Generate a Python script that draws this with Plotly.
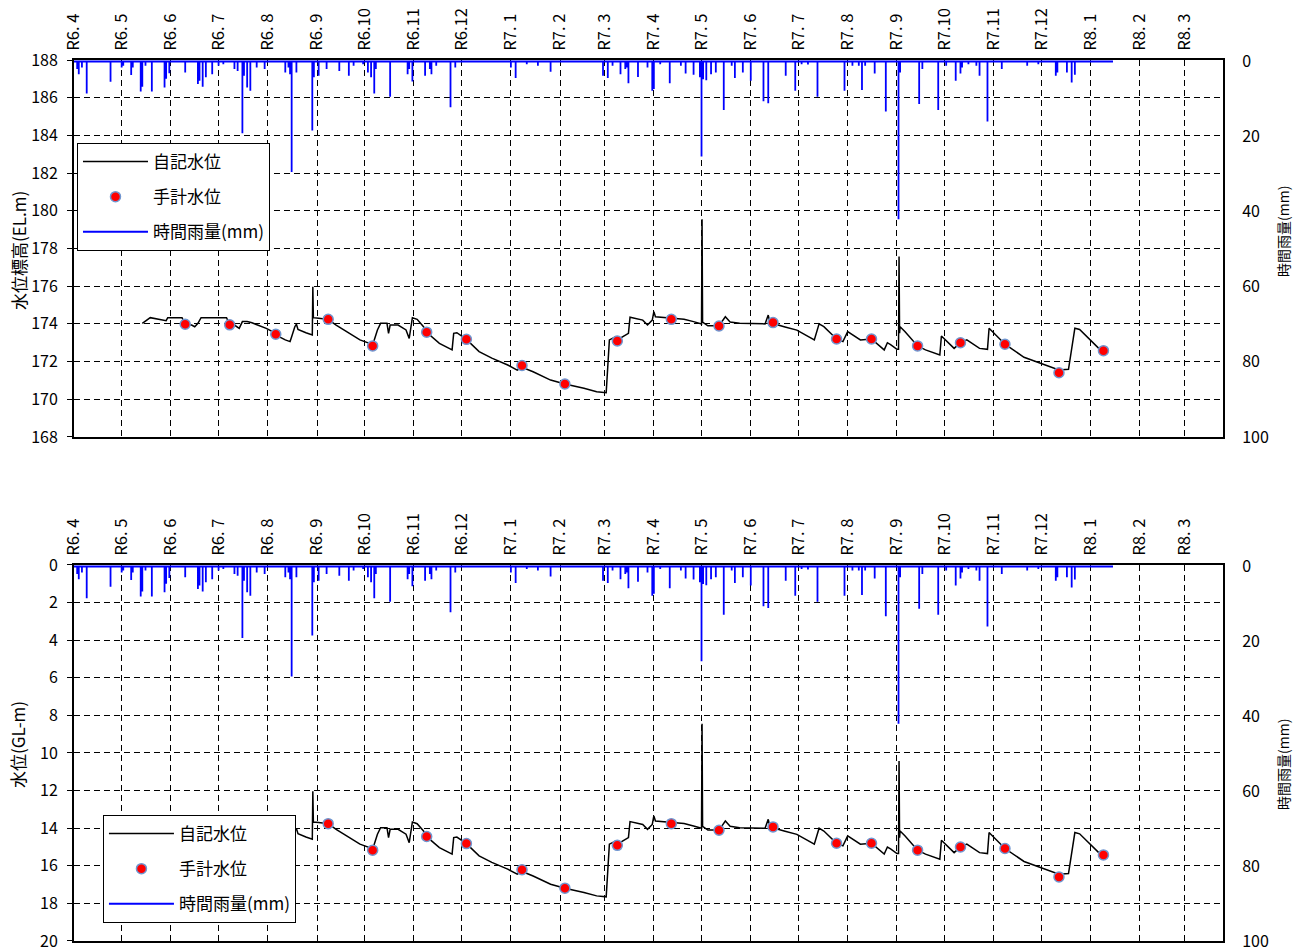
import pandas as pd
import plotly.graph_objects as go

# ---------------- data ----------------
month_ticks = ["2024-04-01", "2024-05-01", "2024-06-01", "2024-07-01", "2024-08-01", "2024-09-01",
               "2024-10-01", "2024-11-01", "2024-12-01", "2025-01-01", "2025-02-01", "2025-03-01",
               "2025-04-01", "2025-05-01", "2025-06-01", "2025-07-01", "2025-08-01", "2025-09-01",
               "2025-10-01", "2025-11-01", "2025-12-01", "2026-01-01", "2026-02-01", "2026-03-01"]
month_labels = ["R6. 4", "R6. 5", "R6. 6", "R6. 7", "R6. 8", "R6. 9", "R6.10", "R6.11", "R6.12",
                "R7. 1", "R7. 2", "R7. 3", "R7. 4", "R7. 5", "R7. 6", "R7. 7", "R7. 8", "R7. 9",
                "R7.10", "R7.11", "R7.12", "R8. 1", "R8. 2", "R8. 3"]

# 自記水位 (EL.m)
level_dates = ["2024-05-14", "2024-05-19", "2024-05-29", "2024-05-30", "2024-06-08", "2024-06-10",
               "2024-06-14", "2024-06-16", "2024-06-18", "2024-06-20", "2024-07-06", "2024-07-08",
               "2024-07-11", "2024-07-14", "2024-07-16", "2024-07-19", "2024-07-22", "2024-07-26",
               "2024-07-31", "2024-08-04", "2024-08-06", "2024-08-08", "2024-08-12", "2024-08-15",
               "2024-08-16", "2024-08-18", "2024-08-19", "2024-08-20", "2024-08-25", "2024-08-28",
               "2024-08-29 00:00", "2024-08-29 08:00", "2024-08-29 16:00", "2024-09-02", "2024-09-08",
               "2024-09-13", "2024-09-28", "2024-10-04", "2024-10-06", "2024-10-07", "2024-10-09",
               "2024-10-11", "2024-10-15", "2024-10-16", "2024-10-17", "2024-10-22", "2024-10-27",
               "2024-10-29", "2024-10-31", "2024-11-03", "2024-11-07", "2024-11-09", "2024-11-17",
               "2024-11-25", "2024-11-26", "2024-11-28", "2024-12-04", "2024-12-12", "2024-12-20",
               "2024-12-30", "2025-01-05", "2025-01-08", "2025-01-15", "2025-01-26", "2025-02-04",
               "2025-02-16", "2025-02-24", "2025-03-02", "2025-03-03", "2025-03-04", "2025-03-08",
               "2025-03-09", "2025-03-16", "2025-03-17", "2025-03-25", "2025-03-28", "2025-03-31",
               "2025-04-01", "2025-04-02", "2025-04-12", "2025-04-20", "2025-04-26", "2025-04-30",
               "2025-05-01 00:00", "2025-05-01 08:00", "2025-05-01 16:00", "2025-05-05", "2025-05-12",
               "2025-05-16", "2025-05-19", "2025-05-25", "2025-06-10", "2025-06-12", "2025-06-13",
               "2025-06-22", "2025-06-30", "2025-07-11", "2025-07-14", "2025-07-17", "2025-07-25",
               "2025-07-29", "2025-08-01", "2025-08-09", "2025-08-16", "2025-08-24", "2025-08-26",
               "2025-08-28", "2025-09-01", "2025-09-02 00:00", "2025-09-02 08:00", "2025-09-02 16:00",
               "2025-09-03", "2025-09-06", "2025-09-14", "2025-09-19", "2025-09-28", "2025-09-29",
               "2025-10-07", "2025-10-11", "2025-10-15", "2025-10-23", "2025-10-28", "2025-10-29",
               "2025-11-01", "2025-11-08", "2025-11-20", "2025-11-30", "2025-12-12", "2025-12-18",
               "2025-12-20", "2025-12-22", "2025-12-25", "2026-01-07"]
level_el = [174.03, 174.33, 174.17, 174.33, 174.33, 173.98,
            173.94, 173.85, 174.03, 174.33, 174.33, 173.98,
            173.94, 173.76, 174.12, 174.12, 174.06, 173.94,
            173.76, 173.59, 173.46, 173.32, 173.15, 173.06,
            173.32, 173.85, 173.98, 173.71, 173.53, 173.41,
            173.41, 175.97, 174.33, 174.30, 174.24,
            173.94, 173.15, 172.97, 172.83, 173.15, 173.68,
            174.03, 174.03, 173.50, 173.94, 173.94, 173.68,
            173.23, 174.33, 174.24, 173.85, 173.55, 172.97,
            172.62, 173.50, 173.53, 173.18, 172.53, 172.18,
            171.82, 171.55, 171.70, 171.46, 171.02, 170.81,
            170.58, 170.40, 170.35, 171.73, 173.15, 173.32,
            173.15, 173.50, 174.35, 174.20, 173.94, 174.20,
            174.65, 174.38, 174.30, 174.25, 174.12, 174.00,
            174.00, 179.55, 174.10, 173.90, 173.90,
            174.38, 174.10, 174.03, 174.00, 174.47, 174.07,
            173.85, 173.67, 173.15, 174.00, 173.85, 173.20,
            173.06, 173.59, 173.15, 173.20, 172.62, 173.00,
            172.90, 172.65, 172.65, 177.57, 173.50,
            173.85, 173.60, 172.83, 172.62, 172.35, 173.36,
            172.70, 173.00, 173.15, 172.70, 172.65, 173.77,
            173.50, 172.92, 172.23, 171.91, 171.55, 171.59,
            172.62, 173.77, 173.70, 172.62]

# 手計水位 (EL.m)
manual_dates = ["2024-06-10", "2024-07-08", "2024-08-06", "2024-09-08", "2024-10-06", "2024-11-09",
                "2024-12-04", "2025-01-08", "2025-02-04", "2025-03-09", "2025-04-12", "2025-05-12",
                "2025-06-15", "2025-07-25", "2025-08-16", "2025-09-14", "2025-10-11", "2025-11-08",
                "2025-12-12", "2026-01-09"]
manual_el = [173.98, 173.95, 173.45, 174.24, 172.83, 173.56,
             173.18, 171.79, 170.81, 173.09, 174.24, 173.89,
             174.07, 173.20, 173.20, 172.83, 173.00, 172.92,
             171.41, 172.58]

# 時間雨量 (mm)
rain_dates = ["2024-04-03", "2024-04-04", "2024-04-06", "2024-04-09", "2024-04-24", "2024-05-01",
              "2024-05-02", "2024-05-07", "2024-05-08", "2024-05-13", "2024-05-14", "2024-05-16",
              "2024-05-20", "2024-05-28", "2024-05-29", "2024-05-31", "2024-06-10", "2024-06-18",
              "2024-06-19", "2024-06-21", "2024-06-23", "2024-06-27", "2024-07-01", "2024-07-04",
              "2024-07-11", "2024-07-13", "2024-07-16", "2024-07-17", "2024-07-19", "2024-07-21",
              "2024-07-25", "2024-07-30", "2024-08-12", "2024-08-14", "2024-08-15", "2024-08-16",
              "2024-08-19", "2024-08-29", "2024-08-30", "2024-09-02", "2024-09-07", "2024-09-15",
              "2024-09-21", "2024-09-24", "2024-09-30", "2024-10-03", "2024-10-05", "2024-10-07",
              "2024-10-08", "2024-10-17", "2024-10-28", "2024-10-29", "2024-10-31", "2024-11-08",
              "2024-11-11", "2024-11-12", "2024-11-15", "2024-11-24", "2024-11-27",
              "2025-01-01", "2025-01-04", "2025-01-11", "2025-01-18", "2025-01-26", "2025-02-28",
              "2025-03-03", "2025-03-06", "2025-03-11", "2025-03-14", "2025-03-15", "2025-03-16",
              "2025-03-22", "2025-03-28", "2025-03-31", "2025-04-01", "2025-04-05", "2025-04-11",
              "2025-04-18", "2025-04-21", "2025-04-26", "2025-04-30", "2025-05-01", "2025-05-02",
              "2025-05-04", "2025-05-07", "2025-05-10", "2025-05-15", "2025-05-20", "2025-05-22",
              "2025-05-27", "2025-06-01", "2025-06-09", "2025-06-12", "2025-06-23", "2025-06-29",
              "2025-07-03", "2025-07-07", "2025-07-13", "2025-07-30", "2025-08-04", "2025-08-08",
              "2025-08-10", "2025-08-12", "2025-08-18", "2025-08-25", "2025-09-02", "2025-09-03",
              "2025-09-15", "2025-09-17", "2025-09-27", "2025-10-02", "2025-10-08", "2025-10-11",
              "2025-10-12", "2025-10-16", "2025-10-21", "2025-10-23", "2025-10-28", "2025-11-06",
              "2025-11-22", "2025-11-29", "2025-12-10", "2025-12-11", "2025-12-17", "2025-12-20",
              "2025-12-22"]
rain_mm = [2.0, 3.4, 1.6, 8.5, 5.4, 1.6,
           1.1, 3.6, 1.6, 8.0, 6.7, 1.1,
           8.0, 6.9, 4.6, 3.1, 2.9, 6.0,
           5.1, 6.7, 4.2, 3.4, 1.1, 0.7,
           2.0, 2.5, 19.1, 3.8, 6.9, 7.8,
           1.6, 2.0, 2.9, 1.6, 3.4, 29.4,
           2.9, 18.4, 4.2, 3.8, 2.0, 2.5,
           3.8, 1.1, 0.7, 2.9, 4.2, 8.5,
           2.0, 9.4, 3.4, 2.0, 5.3, 3.8,
           2.0, 3.4, 1.1, 12.2, 1.6,
           1.6, 4.4, 0.7, 1.1, 2.7, 3.8,
           4.4, 1.1, 3.4, 2.0, 1.6, 5.8,
           4.1, 1.6, 7.8, 7.3, 0.7, 5.8,
           1.1, 3.2, 3.5, 4.2, 25.3, 4.7,
           5.0, 3.4, 2.9, 12.9, 1.1, 4.4,
           2.9, 5.1, 10.6, 11.1, 3.8, 7.8,
           0.7, 0.8, 9.4, 7.8, 1.1, 1.1,
           7.6, 1.1, 3.2, 13.3, 42.0, 2.9,
           11.3, 2.0, 12.9, 1.1, 5.1, 3.2,
           1.6, 0.7, 1.1, 3.8, 16.0, 2.0,
           1.1, 0.7, 3.8, 2.9, 2.9, 5.6,
           3.5]
rain_start = "2024-04-01"
rain_end = "2026-01-15"

GROUND_EL = 188.0  # 地盤標高: GL-m = GROUND_EL - EL
x_range = ["2024-04-01", "2026-03-25 06:00"]

# ---------------- build ----------------
lv_x = pd.to_datetime(level_dates, format="mixed")
mn_x = pd.to_datetime(manual_dates, format="mixed")
level_gl = [round(GROUND_EL - v, 2) for v in level_el]
manual_gl = [round(GROUND_EL - v, 2) for v in manual_el]

rx, ry = [pd.Timestamp(rain_start)], [0.0]
for d, v in zip(pd.to_datetime(rain_dates, format="mixed"), rain_mm):
    rx += [d, d, d]
    ry += [0.0, v, 0.0]
rx.append(pd.Timestamp(rain_end))
ry.append(0.0)

FONT = "Noto Sans CJK JP, Liberation Sans, Arial, sans-serif"
C_RAIN = "#0000FF"
C_MK = "#FF0000"
C_MK_LINE = "#7096d0"

fig = go.Figure()

def add_set(xa, ya, ya_rain, lg, wl, mv):
    fig.add_trace(go.Scatter(x=rx, y=ry, mode="lines", name="時間雨量(mm)",
                             line=dict(color=C_RAIN, width=1.8), xaxis=xa, yaxis=ya_rain,
                             legend=lg, legendgroup=lg + "c", legendrank=3))
    fig.add_trace(go.Scatter(x=lv_x, y=wl, mode="lines", name="自記水位",
                             line=dict(color="black", width=1.5), xaxis=xa, yaxis=ya,
                             legend=lg, legendgroup=lg + "a", legendrank=1))
    fig.add_trace(go.Scatter(x=mn_x, y=mv, mode="markers", name="手計水位",
                             marker=dict(color=C_MK, size=10, line=dict(color=C_MK_LINE, width=1.5)),
                             xaxis=xa, yaxis=ya, legend=lg, legendgroup=lg + "b", legendrank=2))

add_set("x", "y", "y2", "legend", level_el, manual_el)
add_set("x2", "y3", "y4", "legend2", level_gl, manual_gl)

grid = dict(showgrid=True, gridcolor="black", gridwidth=1.2, griddash="6px,4px")
xcommon = dict(type="date", range=x_range, tickvals=month_ticks, ticktext=month_labels,
               side="top", tickangle=-90, showline=True, linecolor="black", linewidth=2,
               mirror=True, ticks="", zeroline=False, layer="below traces", automargin=False,
               ticklabeloverflow="allow",
               ticklabelstandoff=4, tickfont=dict(family=FONT, size=16.5, color="black"), **grid)
yleft = dict(showline=True, linecolor="black", linewidth=2, ticks="outside", ticklen=5,
             tickcolor="black", zeroline=False, dtick=2, tickfont=dict(family=FONT, size=16, color="black"),
             ticklabelstandoff=6, layer="below traces", automargin=False, ticklabeloverflow="allow",
             **grid)
yright = dict(side="right", range=[100, -0.4], tickvals=[0, 20, 40, 60, 80, 100], showgrid=False,
              showline=True, linecolor="black", linewidth=2, ticks="", zeroline=False,
              tickfont=dict(family=FONT, size=16, color="black"), ticklabelstandoff=14,
              layer="below traces", automargin=False, ticklabeloverflow="allow")

top_dom = [0.5721, 1.0]
bot_dom = [0.0, 0.4268]

legend_common = dict(xanchor="left", yanchor="top", bgcolor="white", bordercolor="black",
                     borderwidth=1, font=dict(family=FONT, size=17), tracegroupgap=10,
                     itemwidth=65, traceorder="grouped")

fig.update_layout(
    width=1303, height=951,
    margin=dict(l=74, r=80, t=60, b=10, autoexpand=False),
    paper_bgcolor="white", plot_bgcolor="white",
    font=dict(family=FONT, color="black"),
    xaxis=dict(anchor="y", domain=[0, 1], **xcommon),
    xaxis2=dict(anchor="y3", domain=[0, 1], **xcommon),
    yaxis=dict(domain=top_dom, anchor="x", range=[168, 188], **yleft),
    yaxis2=dict(overlaying="y", anchor="x", **yright),
    yaxis3=dict(domain=bot_dom, anchor="x2", range=[20, 0], **yleft),
    yaxis4=dict(overlaying="y3", anchor="x2", **yright),
    legend=dict(x=0.0026, y=0.9058, **legend_common),
    legend2=dict(x=0.0252, y=0.143, **legend_common),
    showlegend=True,
)

for text, xp, yp, fs in [("水位標高(EL.m)", -0.0487, 0.7832, 17), ("時間雨量(mm)", 1.0522, 0.8059, 14),
                         ("水位(GL-m)", -0.0487, 0.2225, 17), ("時間雨量(mm)", 1.0522, 0.2009, 14)]:
    fig.add_annotation(text=text, x=xp, y=yp, xref="paper", yref="paper", showarrow=False,
                       textangle=-90, font=dict(family=FONT, size=fs, color="black"),
                       xanchor="center", yanchor="middle")

# remove the default page margin so the 1303x951 figure fills the window exactly
fig.write_html("out.html", config={"displayModeBar": False},
               post_script="document.body.style.margin='0';document.body.style.overflow='hidden';")
